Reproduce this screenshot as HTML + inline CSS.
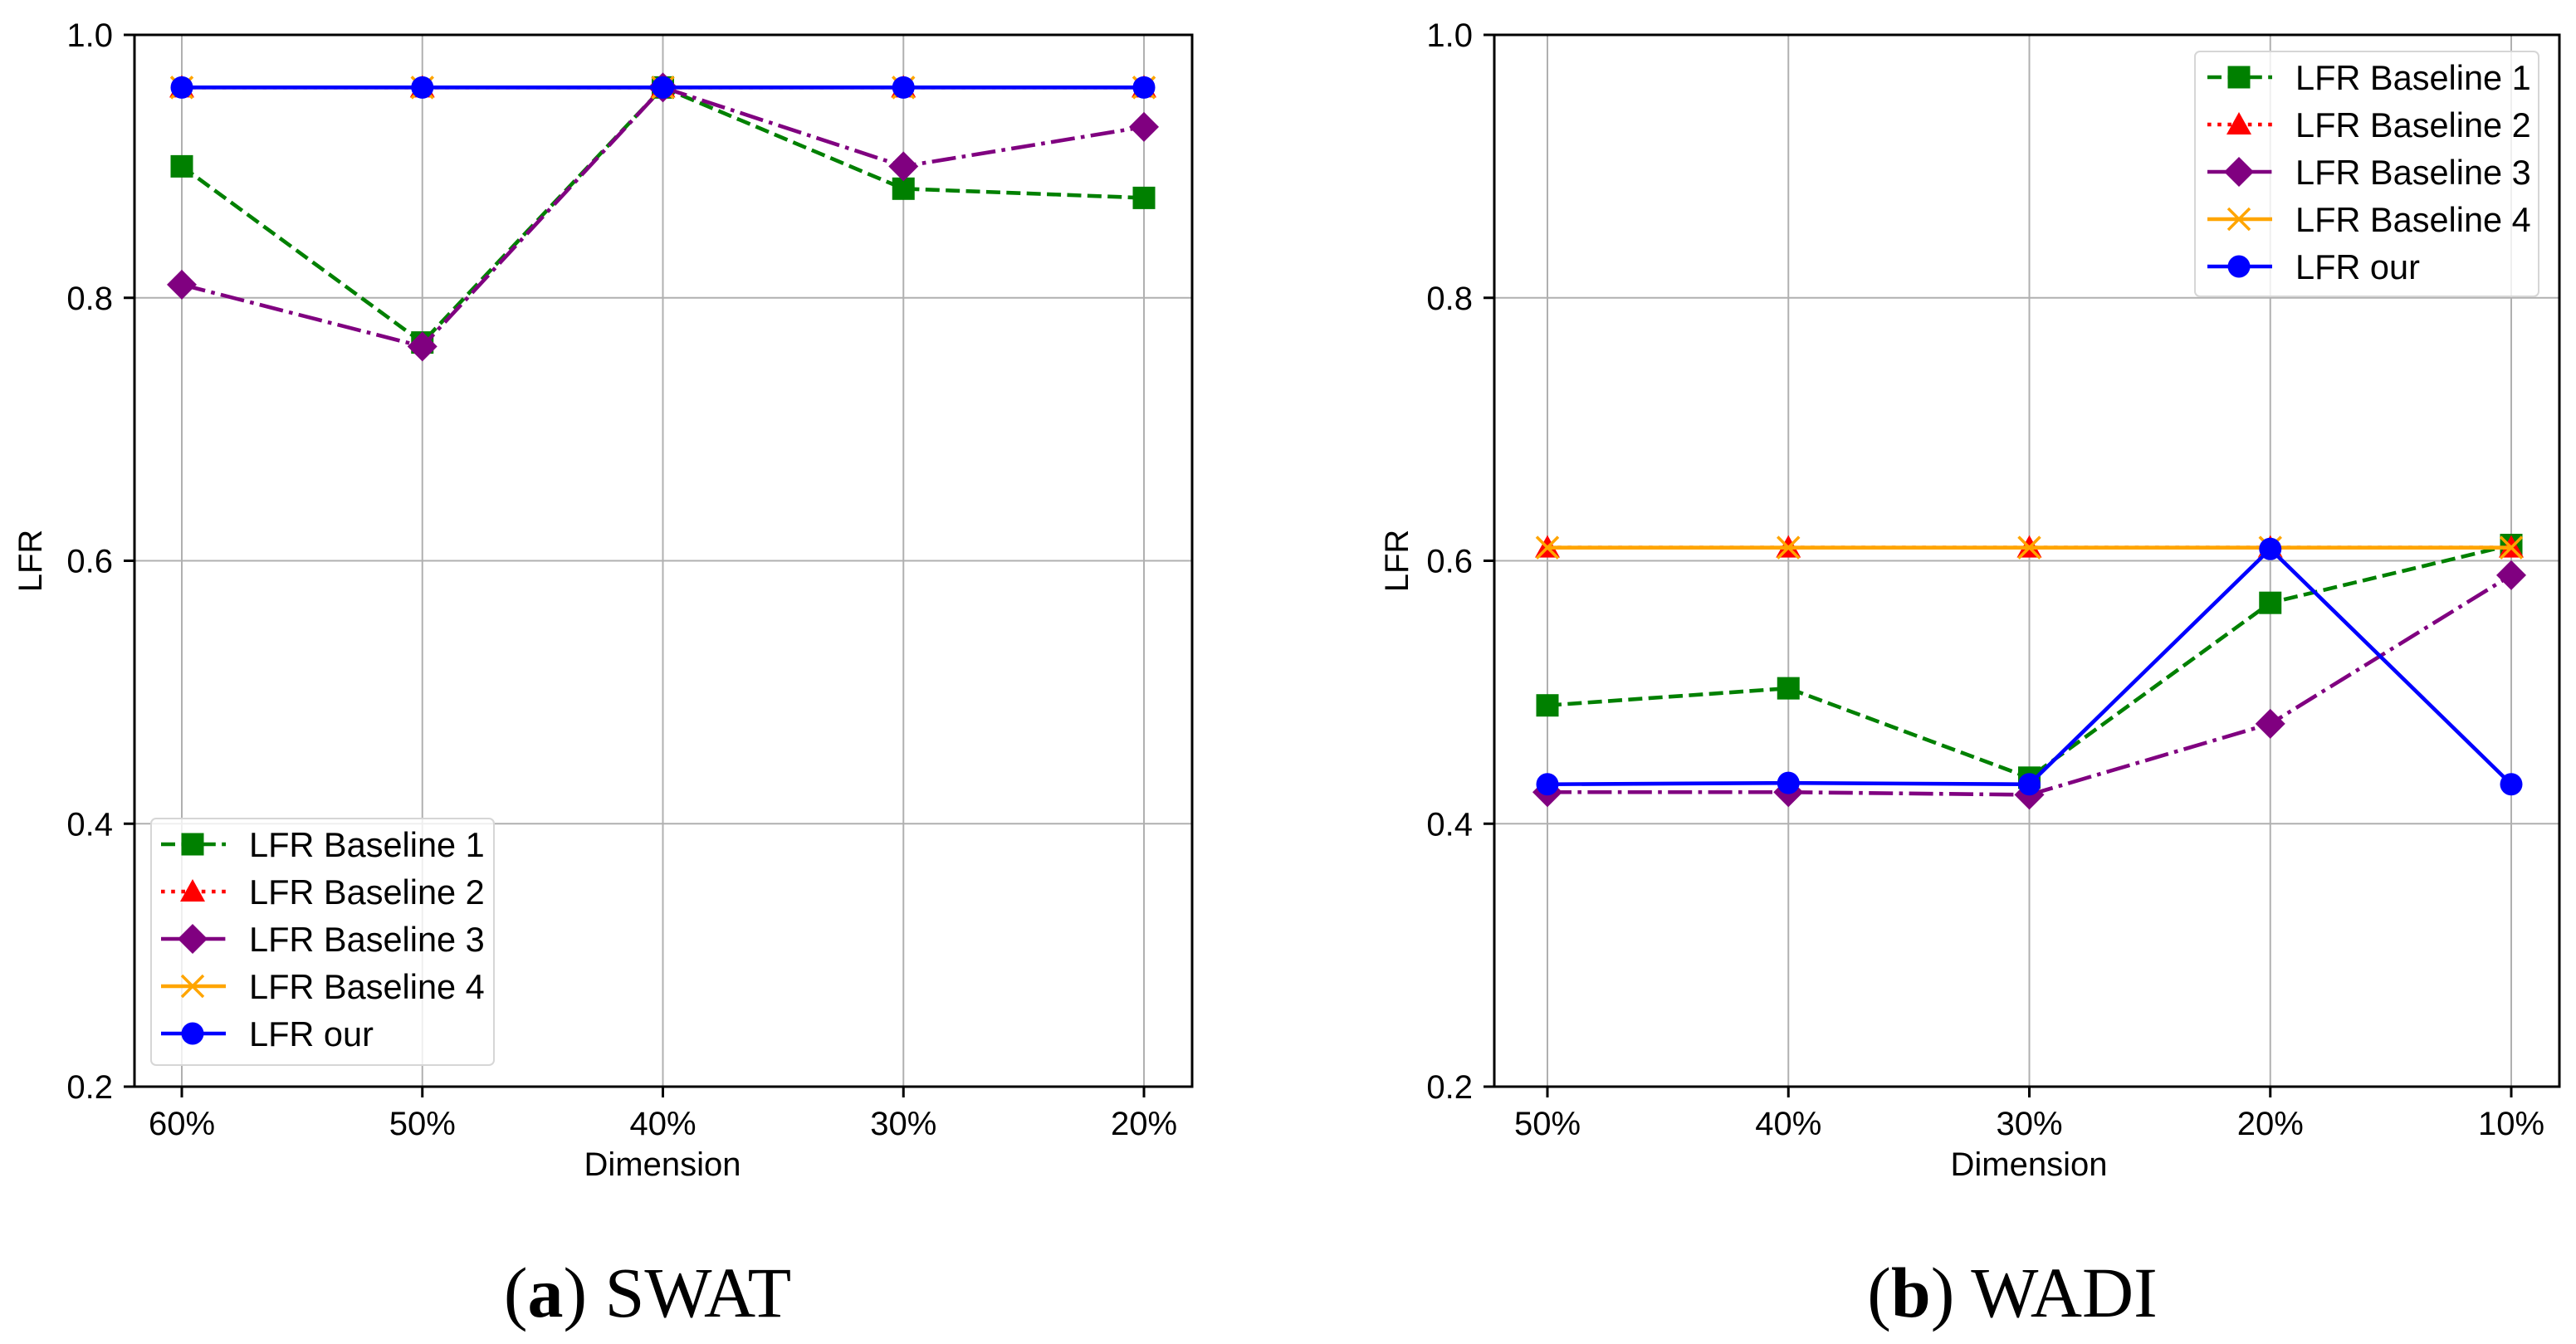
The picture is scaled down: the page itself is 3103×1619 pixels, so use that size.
<!DOCTYPE html>
<html><head><meta charset="utf-8"><style>
html,body{margin:0;padding:0;background:#fff;}
svg{display:block;}
text{font-family:"Liberation Sans","DejaVu Sans",sans-serif;fill:#000;}
</style></head><body>
<svg id="fig" width="3103" height="1619" viewBox="0 0 3103 1619" xmlns="http://www.w3.org/2000/svg"></svg>
<script>
const swatCategories = ["60%","50%","40%","30%","20%"];
const wadiCategories = ["50%","40%","30%","20%","10%"];
const yTicks = [0.2,0.4,0.6,0.8,1.0];
const yTickLabels = ["0.2","0.4","0.6","0.8","1.0"];
const seriesNames = ["LFR Baseline 1","LFR Baseline 2","LFR Baseline 3","LFR Baseline 4","LFR our"];
const swatB1 = [0.90,0.766,0.96,0.883,0.876];
const swatB2 = [0.96,0.96,0.96,0.96,0.96];
const swatB3 = [0.81,0.763,0.96,0.90,0.93];
const swatB4 = [0.96,0.96,0.96,0.96,0.96];
const swatOur = [0.96,0.96,0.96,0.96,0.96];
const wadiB1 = [0.49,0.503,0.435,0.568,0.612];
const wadiB2 = [0.61,0.61,0.61,0.61,0.61];
const wadiB3 = [0.424,0.424,0.422,0.476,0.589];
const wadiB4 = [0.61,0.61,0.61,0.61,0.61];
const wadiOur = [0.43,0.431,0.43,0.609,0.43];

const NS="http://www.w3.org/2000/svg";
const svg=document.getElementById('fig');
function mk(tag,attrs,parent){const e=document.createElementNS(NS,tag);for(const k in attrs)e.setAttribute(k,attrs[k]);(parent||svg).appendChild(e);return e;}

const styles=[
 {color:"#008000",dash:"17,7.4",marker:"square"},
 {color:"#ff0000",dash:"4.6,7.6",marker:"triangle"},
 {color:"#800080",dash:"29,7.4,4.6,7.4",marker:"diamond"},
 {color:"#ffa500",dash:"",marker:"x"},
 {color:"#0000ff",dash:"",marker:"circle"}
];
function marker(g,type,cx,cy,color){
  let e;
  if(type==="square") e=mk('rect',{x:cx-13.5,y:cy-13.5,width:27,height:27,fill:color},g);
  else if(type==="triangle") e=mk('polygon',{points:`${cx},${cy-15} ${cx+15},${cy+12} ${cx-15},${cy+12}`,fill:color},g);
  else if(type==="diamond") e=mk('polygon',{points:`${cx},${cy-18} ${cx+18},${cy} ${cx},${cy+18} ${cx-18},${cy}`,fill:color},g);
  else if(type==="x") e=mk('path',{d:`M${cx-13},${cy-13}L${cx+13},${cy+13}M${cx-13},${cy+13}L${cx+13},${cy-13}`,stroke:color,'stroke-width':3.5,fill:'none'},g);
  else e=mk('circle',{cx:cx,cy:cy,r:13.5,fill:color},g);
  return e;
}

function chart(cfg){
  const {L,R,T,B,x0,x1,cats,series,legend,prefix,caption,capX,ylabX,dimX}=cfg;
  const g=mk('g',{});
  
  
  const ys=v=>B-(v-0.2)/0.8*(B-T);
  const xs=i=>x0+i*(x1-x0)/(cats.length-1);
  cats.forEach((c,i)=>{const l=mk('line',{x1:xs(i),x2:xs(i),y1:T,y2:B,stroke:'#b0b0b0','stroke-width':2},g);
    });
  yTicks.forEach(v=>{const l=mk('line',{x1:L,x2:R,y1:ys(v),y2:ys(v),stroke:'#b0b0b0','stroke-width':2},g);
    });
  series.forEach((vals,si)=>{
    const st=styles[si];
    const sg=mk('g',{},g);
    
    
    const pts=vals.map((v,i)=>xs(i)+','+ys(v)).join(' ');
    const pl=mk('polyline',{points:pts,fill:'none',stroke:st.color,'stroke-width':4.6,'stroke-dasharray':st.dash},sg);
    
    vals.forEach((v,i)=>{const m=marker(sg,st.marker,xs(i),ys(v),st.color);
      });
  });
  const fr=mk('rect',{x:L,y:T,width:R-L,height:B-T,fill:'none',stroke:'#000','stroke-width':3},g);
  
  yTicks.forEach((v,i)=>{mk('line',{x1:L-13,x2:L,y1:ys(v),y2:ys(v),stroke:'#000','stroke-width':3},g);
    const t=mk('text',{x:L-26,y:ys(v)+14,'text-anchor':'end','font-size':40},g);t.textContent=yTickLabels[i];
    });
  cats.forEach((c,i)=>{mk('line',{x1:xs(i),x2:xs(i),y1:B,y2:B+13,stroke:'#000','stroke-width':3},g);
    const t=mk('text',{x:xs(i),y:B+58,'text-anchor':'middle','font-size':40},g);t.textContent=c;
    });
  const yl=mk('text',{x:ylabX,y:(T+B)/2,'text-anchor':'middle','font-size':40,transform:`rotate(-90 ${ylabX} ${(T+B)/2})`},g);
  yl.textContent='LFR';
  const xl=mk('text',{x:dimX,y:1416,'text-anchor':'middle','font-size':40},g);
  xl.textContent='Dimension';
  const lg=mk('g',{},g);
  
  
  mk('rect',{x:legend.x,y:legend.y,width:legend.w,height:legend.h,rx:6,fill:'#fff','fill-opacity':0.8,stroke:'#d6d6d6','stroke-width':2},lg);
  seriesNames.forEach((n,si)=>{
    const st=styles[si];const cy=legend.ey+si*57;
    const en=mk('g',{},lg);
    
    
    mk('line',{x1:legend.lx,x2:legend.lx+78,y1:cy,y2:cy,stroke:st.color,'stroke-width':4.6,'stroke-dasharray':st.dash},en);
    marker(en,st.marker,legend.lx+38,cy,st.color);
    const t=mk('text',{x:legend.lx+106,y:cy+15,'font-size':41.5},en);t.textContent=n;
  });
  const cp=mk('text',{x:capX,y:1586,'text-anchor':'middle','font-size':86,style:'font-family:"Liberation Serif",serif'},g);
  cp.innerHTML='(<tspan font-weight="bold">'+caption[0]+'</tspan>) '+caption[1];
  
}
chart({L:162,R:1436,T:42,B:1309,x0:219,x1:1378,cats:swatCategories,series:[swatB1,swatB2,swatB3,swatB4,swatOur],
  legend:{x:182,y:986,w:413,h:297,ey:1017,lx:194},prefix:'swat',caption:['a','SWAT'],capX:780,ylabX:50,dimX:798});
chart({L:1800,R:3083,T:42,B:1309,x0:1864,x1:3025,cats:wadiCategories,series:[wadiB1,wadiB2,wadiB3,wadiB4,wadiOur],
  legend:{x:2644,y:62,w:414,h:295,ey:93,lx:2659},prefix:'wadi',caption:['b','WADI'],capX:2424,ylabX:1696,dimX:2444});
</script>
</body></html>
